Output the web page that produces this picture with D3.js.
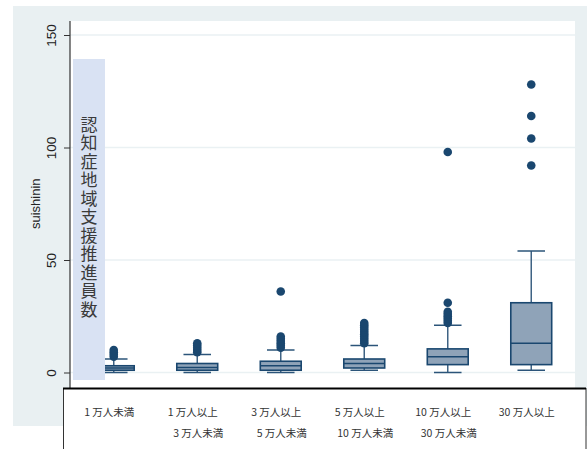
<!DOCTYPE html>
<html>
<head>
<meta charset="utf-8">
<script src="https://cdn.jsdelivr.net/npm/d3@7"></script>
<style>
  html, body { margin: 0; padding: 0; background: #ffffff; }
  svg { display: block; }
</style>
</head>
<body>
<svg id="chart" width="587" height="449"></svg>
<script>
// Municipality population classes (two-line axis labels)
const categories = ["c1", "c2", "c3", "c4", "c5", "c6"];
const labelTop = ["1 万人未満", "1 万人以上", "3 万人以上", "5 万人以上", "10 万人以上", "30 万人以上"];
const labelBottom = ["", "3 万人未満", "5 万人未満", "10 万人未満", "30 万人未満", ""];

// Box plot summaries of suishinin per class
const whiskerLow = [0, 0, 0, 1, 0, 1];
const q1 = [1, 1, 1, 2, 3.5, 3.5];
const median = [2, 2.2, 3, 4, 7, 13];
const q3 = [3, 4, 5, 6, 10.5, 31];
const whiskerHigh = [6, 8, 10, 12, 21, 54];
const outliers = [
  [7, 8, 9, 10],
  [9, 10, 11, 12, 13],
  [11, 12, 13, 14, 15, 16, 36],
  [13, 14, 15, 16, 17, 18, 19, 20, 21, 22],
  [22, 23, 24, 25, 26, 27, 31, 98],
  [92, 104, 114, 128]
];

const yTicks = [0, 50, 100, 150];
const yTitle = "suishinin";
const sideLabel = "認知症地域支援推進員数";

const svg = d3.select("#chart");
const navy = "#1a476f";
const boxFill = "#8fa3b8";
const gridColor = "#eaf1f3";

// Outer graph region and plot region
svg.append("rect").attr("x", 13).attr("y", 6).attr("width", 574).attr("height", 420).attr("fill", "#e9f0f2");
svg.append("rect").attr("x", 70).attr("y", 21).attr("width", 505).attr("height", 367).attr("fill", "#ffffff");

const y = d3.scaleLinear().domain([0, 150]).range([372.5, 35]);
const x = d3.scaleBand().domain(categories).range([72, 573]);
const step = x.step();
const boxW = step * 0.49;
const capW = step * 0.33;
const cx = i => x(categories[i]) + step / 2;

// Horizontal grid
svg.append("g").selectAll("line").data(yTicks).join("line")
  .attr("x1", 70).attr("x2", 575)
  .attr("y1", d => y(d)).attr("y2", d => y(d))
  .attr("stroke", gridColor).attr("stroke-width", 1.5);

// Boxes
const g = svg.append("g");
categories.forEach((c, i) => {
  const xc = cx(i);
  // whisker stems
  g.append("line").attr("x1", xc).attr("x2", xc)
    .attr("y1", y(q3[i])).attr("y2", y(whiskerHigh[i]))
    .attr("stroke", "#3f6384").attr("stroke-width", 1.5);
  g.append("line").attr("x1", xc).attr("x2", xc)
    .attr("y1", y(q1[i])).attr("y2", y(whiskerLow[i]))
    .attr("stroke", "#3f6384").attr("stroke-width", 1.5);
  // caps
  [whiskerHigh[i], whiskerLow[i]].forEach(v => {
    g.append("line").attr("x1", xc - capW / 2).attr("x2", xc + capW / 2)
      .attr("y1", y(v)).attr("y2", y(v))
      .attr("stroke", "#2b5479").attr("stroke-width", 1.5);
  });
  // box
  g.append("rect").attr("x", xc - boxW / 2).attr("width", boxW)
    .attr("y", y(q3[i])).attr("height", y(q1[i]) - y(q3[i]))
    .attr("fill", boxFill).attr("stroke", navy).attr("stroke-width", 1.6);
  g.append("line").attr("x1", xc - boxW / 2).attr("x2", xc + boxW / 2)
    .attr("y1", y(median[i])).attr("y2", y(median[i]))
    .attr("stroke", navy).attr("stroke-width", 1.6);
  // outside values
  g.selectAll(null).data(outliers[i]).join("circle")
    .attr("cx", xc).attr("cy", d => y(d)).attr("r", 4.3)
    .attr("fill", navy);
});

// Vertical side label panel, text set top-to-bottom
svg.append("rect").attr("x", 73).attr("y", 59).attr("width", 32).attr("height", 321).attr("fill", "#d9e2f3");
svg.append("text")
  .attr("x", 89).attr("y", 116)
  .style("writing-mode", "vertical-rl")
  .style("glyph-orientation-vertical", "0")
  .attr("text-anchor", "start")
  .attr("letter-spacing", 1.5)
  .attr("font-family", "'Noto Sans CJK JP', sans-serif").attr("font-size", 17)
  .attr("fill", "#3a3a3a").text(sideLabel);

// Y axis
const yAxis = d3.axisLeft(y).tickValues(yTicks).tickSize(6).tickPadding(4).tickFormat(d3.format("d"));
const ax = svg.append("g").attr("transform", "translate(70,0)").call(yAxis);
ax.select(".domain").remove();
ax.append("line").attr("x1", 0).attr("x2", 0).attr("y1", 21).attr("y2", 388).attr("stroke", "#333").attr("stroke-width", 1.2);
ax.selectAll(".tick line").attr("stroke", "#333");
ax.selectAll(".tick text")
  .attr("font-family", "'Liberation Sans', Arial, sans-serif").attr("font-size", 13.5).attr("fill", "#222")
  .attr("x", null).attr("dy", null)
  .attr("text-anchor", "middle")
  .attr("transform", "translate(-19,0) rotate(-90)")
  .attr("dominant-baseline", "central");

svg.append("text").attr("transform", `translate(35,${(y(0) + y(150)) / 2}) rotate(-90)`)
  .attr("text-anchor", "middle").attr("dominant-baseline", "central")
  .attr("font-family", "'Liberation Sans', Arial, sans-serif").attr("font-size", 13)
  .attr("fill", "#222").text(yTitle);

// Category label table
svg.append("rect").attr("x", 63.5).attr("y", 388.5).attr("width", 522.5).attr("height", 70)
  .attr("fill", "#ffffff").attr("stroke", "#333").attr("stroke-width", 1);
svg.append("line").attr("x1", 63).attr("x2", 586).attr("y1", 388.5).attr("y2", 388.5)
  .attr("stroke", "#000").attr("stroke-width", 2);

const labG = svg.append("g")
  .attr("font-family", "'Noto Sans CJK JP', sans-serif").attr("font-size", 10.5).attr("fill", "#333")
  .attr("text-anchor", "middle");
labG.selectAll(".top").data(labelTop).join("text").attr("class", "top")
  .attr("x", (d, i) => cx(i) - 4.5).attr("y", 416).text(d => d);
labG.selectAll(".bot").data(labelBottom).join("text").attr("class", "bot")
  .attr("x", (d, i) => cx(i) + 1).attr("y", 437).text(d => d);
</script>
</body>
</html>
